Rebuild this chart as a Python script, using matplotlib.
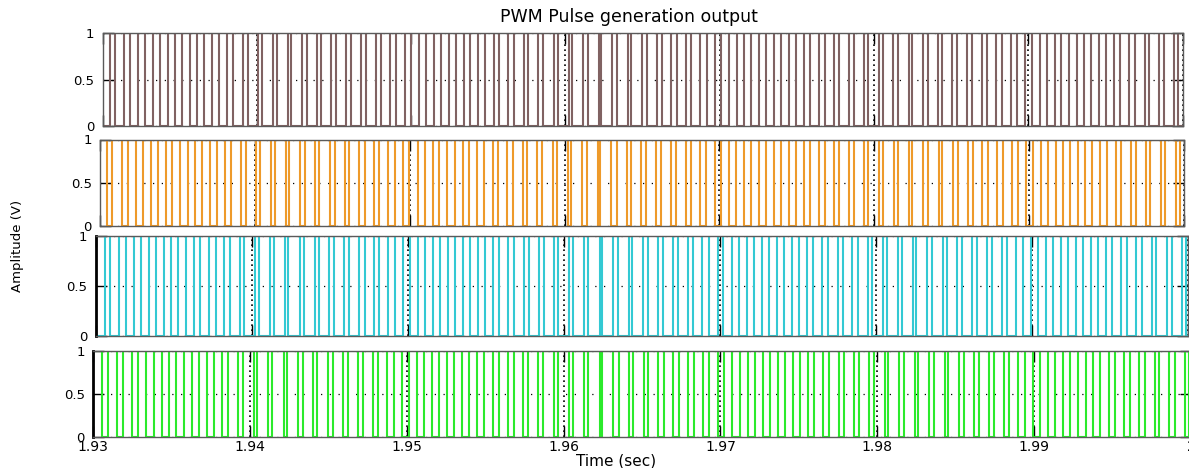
import numpy as np
import matplotlib
matplotlib.use("Agg")
import matplotlib.pyplot as plt

t_start = 1.93
t_end = 2.0
pulse_period_ms = 0.958

# leg 1 (brown) - centre of first pulse (ms after t_start) and duty per carrier cycle
brown_first_center_ms = -0.33
brown_duty = [
    0.39, 0.34, 0.41, 0.47, 0.50, 0.45, 0.52, 0.46, 0.50, 0.41, 0.34,
    0.23, 0.28, 0.22, 0.30, 0.26, 0.33, 0.30, 0.38, 0.35, 0.42,
    0.40, 0.46, 0.44, 0.49, 0.42, 0.45, 0.37, 0.40, 0.31, 0.34,
    0.26, 0.25, 0.34, 0.16, 0.36, 0.23, 0.34, 0.34, 0.38, 0.36,
    0.43, 0.41, 0.48, 0.45, 0.50, 0.44, 0.47, 0.39, 0.41, 0.33,
    0.35, 0.27, 0.24, 0.31, 0.19, 0.33, 0.24, 0.31, 0.33, 0.37,
    0.36, 0.42, 0.44, 0.47, 0.45, 0.51, 0.46, 0.44, 0.40, 0.38,
    0.31, 0.33, 0.26, 0.24,
]

# leg 2 (cyan)
cyan_first_center_ms = -0.19
cyan_duty = [
    0.35, 0.36, 0.42, 0.45, 0.49, 0.47, 0.51, 0.44, 0.47, 0.38, 0.30,
    0.22, 0.27, 0.20, 0.31, 0.27, 0.35, 0.31, 0.39, 0.37, 0.44,
    0.42, 0.47, 0.45, 0.50, 0.43, 0.44, 0.38, 0.39, 0.32, 0.33,
    0.25, 0.23, 0.31, 0.18, 0.34, 0.22, 0.33, 0.35, 0.37, 0.38,
    0.44, 0.40, 0.49, 0.46, 0.49, 0.45, 0.46, 0.40, 0.40, 0.32,
    0.36, 0.28, 0.22, 0.30, 0.20, 0.32, 0.25, 0.30, 0.34, 0.38,
    0.35, 0.43, 0.45, 0.46, 0.46, 0.50, 0.47, 0.43, 0.41, 0.37,
    0.32, 0.34, 0.25, 0.23,
]

x_ticks = [1.93, 1.94, 1.95, 1.96, 1.97, 1.98, 1.99, 2.0]
x_tick_labels = ["1.93", "1.94", "1.95", "1.96", "1.97", "1.98", "1.99", "2"]
y_ticks = [0, 0.5, 1]
y_tick_labels = ["0", "0.5", "1"]


def pulse_train(first_center_ms, duty):
    t = [t_start - 0.002]
    v = [0]
    for k, d in enumerate(duty):
        c = first_center_ms + k * pulse_period_ms
        half = d * pulse_period_ms / 2
        rise = t_start + (c - half) / 1000
        fall = t_start + (c + half) / 1000
        t += [rise, rise, fall, fall]
        v += [0, 1, 1, 0]
    t.append(t_end + 0.002)
    v.append(0)
    return np.array(t), np.array(v)


bt, bv = pulse_train(brown_first_center_ms, brown_duty)
ct, cv = pulse_train(cyan_first_center_ms, cyan_duty)

W, H = 1189, 468
fig = plt.figure(figsize=(W / 100, H / 100), dpi=100)

# each panel: left, right, top, bottom in pixels (the panels are not quite aligned)
panels = [
    (102.5, 1182.5, 33, 126.5, bt, bv, "#806262"),
    (100, 1184, 139.5, 225.5, bt, 1 - bv, "#ee9a2a"),
    (95.5, 1188, 236, 336, ct, cv, "#33c9d3"),
    (93, 1191, 351, 437, ct, 1 - cv, "#2bea2b"),
]

for i, (l, r, top, bot, t, v, col) in enumerate(panels):
    ax = fig.add_axes([l / W, 1 - bot / H, (r - l) / W, (bot - top) / H])
    ax.plot(t, v, color=col, lw=1.5)
    ax.set_xlim(t_start, t_end)
    ax.set_ylim(0, 1)
    ax.set_xticks(x_ticks)
    ax.set_yticks(y_ticks)
    ax.set_yticklabels(y_tick_labels, fontsize=9.5)
    if i == 3:
        ax.set_xticklabels(x_tick_labels, fontsize=10)
    else:
        ax.set_xticklabels([])
    ax.tick_params(direction="in", length=8, width=1, top=True, right=True, pad=6)
    ax.tick_params(axis="x", pad=2.5)
    ax.xaxis.grid(True, color="black", linestyle=(0, (1, 2)), lw=1.2)
    ax.yaxis.grid(True, color="black", linestyle=(0, (1, 6)), lw=0.9)
    ax.set_axisbelow(True)
    for s in ax.spines.values():
        s.set_color("#5a5a5a")
        s.set_linewidth(1)
    if i >= 2:
        ax.spines["left"].set_color("black")
        ax.spines["left"].set_linewidth(2)

fig.text(629 / W, 1 - 17 / H, "PWM Pulse generation output", ha="center", va="center", fontsize=12.5)
fig.text(616 / W, 1 - 461 / H, "Time (sec)", ha="center", va="center", fontsize=11)
fig.text(18 / W, 1 - 246 / H, "Amplitude (V)", ha="center", va="center", rotation=90, fontsize=9.5)

fig.savefig("out.png", dpi=100)
